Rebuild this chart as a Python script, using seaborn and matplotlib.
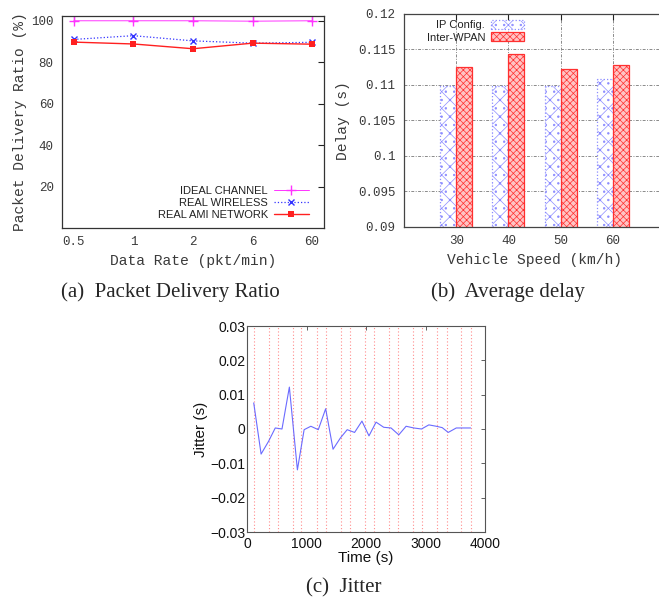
import matplotlib
matplotlib.use("Agg")
import matplotlib.pyplot as plt
import numpy as np
import pandas as pd
import seaborn as sns

# ---- data: (a) packet delivery ratio ----
rate_labels = ["0.5", "1", "2", "6", "60"]
pdr_ideal = [100.0, 100.0, 100.0, 99.8, 100.0]
pdr_wireless = [91.0, 92.8, 90.3, 89.2, 89.6]
pdr_ami = [89.7, 88.8, 86.5, 89.2, 88.7]

# ---- data: (b) average delay ----
speed_labels = ["30", "40", "50", "60"]
delay_ip = [0.1099, 0.1099, 0.1099, 0.1108]
delay_wpan = [0.1125, 0.1143, 0.1122, 0.1128]
delay_ticks = [0.09, 0.095, 0.1, 0.105, 0.11, 0.115, 0.12]
delay_tick_labels = ["0.09", "0.095", "0.1", "0.105", "0.11", "0.115", "0.12"]

# ---- data: (c) jitter ----
jitter_time = [113, 237, 362, 475, 588, 712, 847, 960, 1073, 1198, 1322, 1446,
               1570, 1684, 1808, 1932, 2050, 2169, 2298, 2421, 2551, 2674,
               2803, 2933, 3056, 3180, 3281, 3382, 3517, 3646, 3758]
jitter_val = [0.0076, -0.0073, -0.0036, 0.0003, 0.0, 0.0122, -0.0119, -0.0002,
              0.0008, -0.0002, 0.0059, -0.0059, -0.0026, -0.0002, -0.001,
              0.0023, -0.002, 0.002, 0.0005, 0.0003, -0.0017, 0.0008, 0.0003,
              0.0, 0.0012, 0.0008, 0.0004, -0.001, 0.0003, 0.0003, 0.0003]
marker_times = [112, 368, 522, 773, 913, 1180, 1324, 1585, 1728, 1985, 2140,
                2393, 2540, 2798, 2940, 3200, 3355, 3600, 3760]
jitter_yticks = [-0.03, -0.02, -0.01, 0, 0.01, 0.02, 0.03]
jitter_ytick_labels = ["\u22120.03", "\u22120.02", "\u22120.01", "0", "0.01", "0.02", "0.03"]
time_ticks = [0, 1000, 2000, 3000, 4000]

sns.set_style("white")
plt.rcParams["hatch.linewidth"] = 0.5
plt.rcParams["xtick.direction"] = "in"
plt.rcParams["ytick.direction"] = "in"

W, H = 659, 599
fig = plt.figure(figsize=(W / 100, H / 100), dpi=100)


def px_axes(left, top, right, bottom):
    return fig.add_axes([left / W, 1 - bottom / H, (right - left) / W, (bottom - top) / H])


mono = "Liberation Mono"
sans = "Liberation Sans"
serif = "Liberation Serif"
gray_txt = "#3a3a3a"

# ================= (a) =================
ax_a = px_axes(62, 16, 324, 228)
pos = np.arange(len(rate_labels))
sns.lineplot(x=pos, y=pdr_ideal, ax=ax_a, color="#ff33ff", marker="+", markersize=7,
             linewidth=0.7, label="IDEAL CHANNEL", markeredgewidth=1.0,
             markeredgecolor="#ff33ff")
sns.lineplot(x=pos, y=pdr_wireless, ax=ax_a, color="#3333ff", marker="x", markersize=5,
             linewidth=0.9, linestyle=":", label="REAL WIRELESS", markeredgewidth=1.0,
             markeredgecolor="#3333ff")
sns.lineplot(x=pos, y=pdr_ami, ax=ax_a, color="#ff2020", marker="s", markersize=5,
             linewidth=1.0, label="REAL AMI NETWORK", markeredgewidth=0)
ax_a.set_xlim(-0.2, 4.2)
ax_a.set_ylim(0, 102.3)
ax_a.set_xticks(pos)
ax_a.set_xticklabels(rate_labels, family=mono, fontsize=9, color=gray_txt)
ax_a.set_yticks([20, 40, 60, 80, 100])
ax_a.set_yticklabels(["20", "40", "60", "80", "100"], family=mono, fontsize=9, color=gray_txt)
ax_a.tick_params(top=True, right=True, length=4, width=0.8, pad=6, color="#222222")
ax_a.set_xlabel("Data Rate (pkt/min)", family=mono, fontsize=10.5, color=gray_txt, labelpad=4)
ax_a.set_ylabel("Packet Delivery Ratio (%)", family=mono, fontsize=10.5, color=gray_txt, labelpad=3)
for s in ax_a.spines.values():
    s.set_color("#333333")
    s.set_linewidth(0.9)
leg = ax_a.legend(loc="lower right", bbox_to_anchor=(0.96, 0.015), frameon=False,
                  markerfirst=False, prop={"family": sans, "size": 8},
                  handlelength=3.2, handletextpad=0.5, labelspacing=0.2, borderaxespad=0)
for t in leg.get_texts():
    t.set_color("#222222")

# ================= (b) =================
ax_b = px_axes(404, 14, 665, 227)
df_b = pd.DataFrame({
    "speed": speed_labels * 2,
    "delay": delay_ip + delay_wpan,
    "config": ["IP Config."] * len(speed_labels) + ["Inter-WPAN"] * len(speed_labels),
})
sns.barplot(data=df_b, x="speed", y="delay", hue="config", ax=ax_b, width=0.613,
            gap=0, saturation=1, legend=False)
blue_bars, red_bars = ax_b.containers[0], ax_b.containers[1]
for p in blue_bars:
    p.set_facecolor("white")
    p.set_edgecolor("#8c8cff")
    p.set_hatch("xx..")
    p.set_linestyle(":")
    p.set_linewidth(0.9)
for p in red_bars:
    p.set_facecolor("#ffc4c4")
    p.set_edgecolor("#ff3030")
    p.set_hatch("xxxxx")
    p.set_linewidth(0.9)
ax_b.set_xlim(-1, 4)
ax_b.set_ylim(0.09, 0.12)
ax_b.set_yticks(delay_ticks)
ax_b.set_yticklabels(delay_tick_labels, family=mono, fontsize=9, color=gray_txt)
ax_b.set_xticks(range(len(speed_labels)))
ax_b.set_xticklabels(speed_labels, family=mono, fontsize=9, color=gray_txt)
ax_b.tick_params(top=True, length=4, width=0.8, pad=6, color="#222222")
ax_b.grid(True, color="#8a8a8a", linestyle=(0, (3, 1.5, 1, 1.5)), linewidth=0.7)
ax_b.set_axisbelow(True)
ax_b.set_xlabel("Vehicle Speed (km/h)", family=mono, fontsize=10.5, color=gray_txt, labelpad=4)
ax_b.set_ylabel("Delay (s)", family=mono, fontsize=10.5, color=gray_txt, labelpad=6)
for s in ax_b.spines.values():
    s.set_color("#444444")
    s.set_linewidth(0.9)
leg_b = ax_b.legend([blue_bars, red_bars], ["IP Config.", "Inter-WPAN"], loc="upper left",
                    bbox_to_anchor=(0.07, 0.995), frameon=False, markerfirst=False,
                    prop={"family": sans, "size": 8}, handlelength=3.0, handleheight=0.9,
                    handletextpad=0.5, labelspacing=0.2, borderaxespad=0)
for t in leg_b.get_texts():
    t.set_color("#222222")

# ================= (c) =================
ax_c = px_axes(247, 326, 485, 532)
for t in marker_times:
    ax_c.axvline(t, color="#ff8c8c", linestyle=(0, (1, 2)), linewidth=0.8, zorder=1)
sns.lineplot(x=jitter_time, y=jitter_val, ax=ax_c, color="#6b6bff", linewidth=0.8, zorder=3)
ax_c.set_xlim(0, 4000)
ax_c.set_ylim(-0.03, 0.03)
ax_c.set_xticks(time_ticks)
ax_c.set_xticklabels([str(t) for t in time_ticks], family=sans, fontsize=10, color="#111111")
ax_c.set_yticks(jitter_yticks)
ax_c.set_yticklabels(jitter_ytick_labels, family=sans, fontsize=10, color="#111111")
ax_c.tick_params(axis="y", pad=1)
ax_c.tick_params(axis="x", pad=3.5)
ax_c.tick_params(top=True, right=True, length=3, width=0.6, color="#444444")
ax_c.set_xlabel("Time (s)", family=sans, fontsize=11, color="#111111", labelpad=0)
ax_c.set_ylabel("Jitter (s)", family=sans, fontsize=11, color="#111111", labelpad=2)
for s in ax_c.spines.values():
    s.set_color("#555555")
    s.set_linewidth(0.8)

# ---- captions ----
fig.text(170 / W, 1 - 292 / H, "(a)  Packet Delivery Ratio", family=serif, fontsize=15,
         ha="center", va="center")
fig.text(508 / W, 1 - 292 / H, "(b)  Average delay", family=serif, fontsize=15,
         ha="center", va="center")
fig.text(344 / W, 1 - 588 / H, "(c)  Jitter", family=serif, fontsize=15,
         ha="center", va="center")

fig.savefig("out.png", dpi=100)
